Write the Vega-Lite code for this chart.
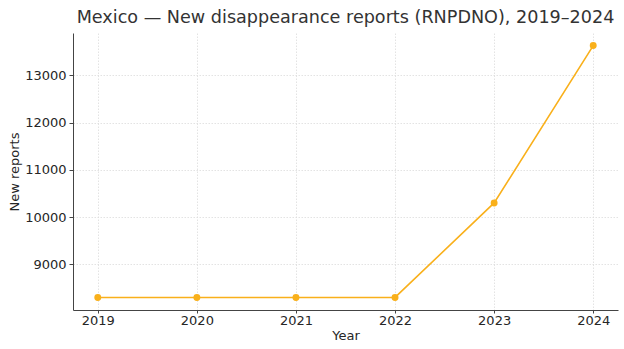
{
  "$schema": "https://vega.github.io/schema/vega-lite/v6.json",
  "width": 545,
  "height": 277,
  "autosize": {"type": "none"},
  "padding": {"left": 73, "top": 33, "right": 6, "bottom": 39},
  "background": "white",
  "title": {
    "text": "Mexico — New disappearance reports (RNPDNO), 2019–2024",
    "font": "DejaVu Sans",
    "fontSize": 17.6,
    "fontWeight": "normal",
    "color": "#333333",
    "anchor": "middle",
    "frame": "group",
    "offset": 6
  },
  "config": {
    "view": {"stroke": null},
    "axis": {
      "labelFont": "DejaVu Sans",
      "titleFont": "DejaVu Sans",
      "labelFontSize": 13,
      "titleFontSize": 13,
      "titleFontWeight": "normal",
      "labelColor": "#262626",
      "titleColor": "#262626",
      "domainColor": "#444444",
      "tickColor": "#444444",
      "tickSize": 4,
      "labelPadding": 3,
      "gridColor": "#dcdcdc",
      "gridDash": [1.5, 1.5],
      "gridWidth": 0.8
    }
  },
  "data": {
    "values": [
      {"Year": 2019, "Reports": 8300},
      {"Year": 2020, "Reports": 8300},
      {"Year": 2021, "Reports": 8300},
      {"Year": 2022, "Reports": 8300},
      {"Year": 2023, "Reports": 10300},
      {"Year": 2024, "Reports": 13630}
    ]
  },
  "encoding": {
    "x": {
      "field": "Year",
      "type": "quantitative",
      "scale": {"domain": [2018.75, 2024.25], "nice": false, "zero": false},
      "axis": {"values": [2019, 2020, 2021, 2022, 2023, 2024], "format": "d", "title": "Year", "titlePadding": 2, "labelFlush": false, "tickSize": 3, "labelPadding": 1}
    },
    "y": {
      "field": "Reports",
      "type": "quantitative",
      "scale": {"domain": [8034, 13896], "nice": false, "zero": false},
      "axis": {"values": [9000, 10000, 11000, 12000, 13000], "format": "d", "title": "New reports", "titlePadding": 3}
    }
  },
  "layer": [
    {"mark": {"type": "line", "color": "#F9B01B", "strokeWidth": 1.6}},
    {"mark": {"type": "point", "filled": true, "opacity": 1, "color": "#F9B01B", "size": 48}}
  ]
}
